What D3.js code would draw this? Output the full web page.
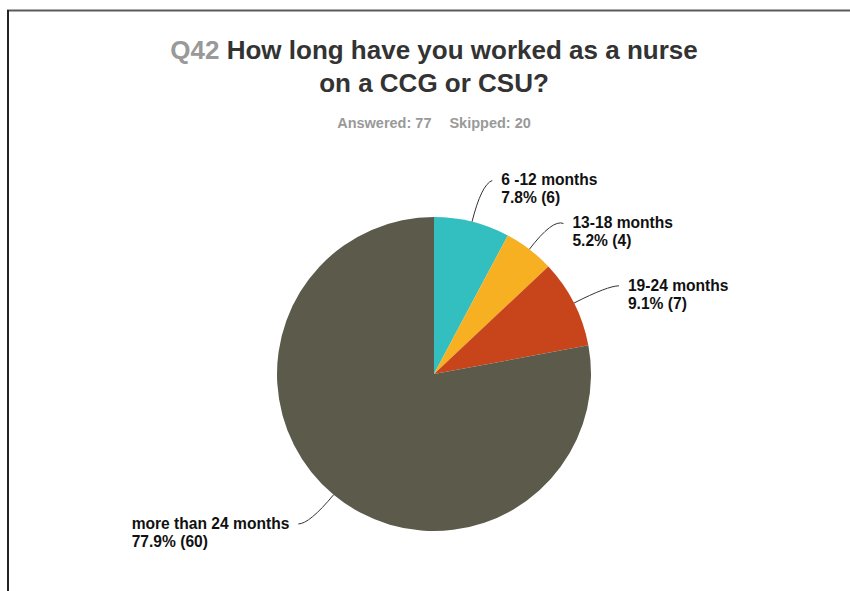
<!DOCTYPE html>
<meta charset="utf-8">
<style>
body {
  margin: 0;
  font-family: "Liberation Sans", Arial, sans-serif;
  background: #fff;
}
.slice-label {
  font-size: 15.6px;
  font-weight: bold;
  fill: #111;
}
.leader {
  fill: none;
  stroke: #333;
  stroke-width: 1px;
}
</style>
<body>
<script src="https://d3js.org/d3.v7.min.js"></script>
<script>

var width = 850,
    height = 591,
    cx = 434,
    cy = 374,
    radius = 157;

// survey answers, in the order they appear clockwise from 12 o'clock
var categories = ["6 -12 months", "13-18 months", "19-24 months", "more than 24 months"];
var counts = [6, 4, 7, 60];
var colors = ["#33bec0", "#f6b021", "#c8441a", "#5c5a4b"];

var questionNo = "Q42";
var titleLines = ["How long have you worked as a nurse", "on a CCG or CSU?"];
var answered = 77,
    skipped = 20;

var svg = d3.select("body").append("svg")
    .attr("width", width)
    .attr("height", height);

// frame (only top and left edges are in view)
svg.append("line")
    .attr("x1", 7).attr("x2", width)
    .attr("y1", 10.5).attr("y2", 10.5)
    .attr("stroke", "#5a5a5a")
    .attr("stroke-width", 2);
svg.append("line")
    .attr("x1", 8).attr("x2", 8)
    .attr("y1", 10).attr("y2", height)
    .attr("stroke", "#222")
    .attr("stroke-width", 2);

// title
var title = svg.append("text")
    .attr("x", cx)
    .attr("y", 59)
    .attr("text-anchor", "middle")
    .style("font-size", "26px")
    .style("font-weight", "bold")
    .style("fill", "#333");
title.append("tspan").style("fill", "#999").text(questionNo + " ");
title.append("tspan").text(titleLines[0]);

svg.append("text")
    .attr("x", cx)
    .attr("y", 92)
    .attr("text-anchor", "middle")
    .style("font-size", "26px")
    .style("font-weight", "bold")
    .style("fill", "#333")
    .text(titleLines[1]);

var sub = svg.append("text")
    .attr("x", cx)
    .attr("y", 128)
    .attr("text-anchor", "middle")
    .style("font-size", "14.5px")
    .style("font-weight", "bold")
    .style("fill", "#999");
sub.append("tspan").text("Answered: " + answered);
sub.append("tspan").attr("dx", 18).text("Skipped: " + skipped);

// pie
var total = d3.sum(counts);
var fmt = d3.format(".1%");

var pie = d3.pie().sort(null).value(function(d) { return d; });
var arcs = pie(counts);

var arc = d3.arc().innerRadius(0).outerRadius(radius);

var g = svg.append("g")
    .attr("transform", "translate(" + cx + "," + cy + ")");

g.selectAll("path.slice")
    .data(arcs)
  .enter().append("path")
    .attr("class", "slice")
    .attr("d", arc)
    .attr("fill", function(d, i) { return colors[i]; });

function polar(r, a) {
  return [r * Math.sin(a), -r * Math.cos(a)];
}

// label anchors, then push apart labels that sit too close on one side
var anchors = arcs.map(function(d) {
  var mid = (d.startAngle + d.endAngle) / 2;
  return {
    mid: mid,
    right: Math.sin(mid) >= 0,
    p0: polar(radius, mid),
    p1: polar(radius + 38, mid)
  };
});
anchors.forEach(function(a) { a.y = a.p1[1]; });

var minGap = 43;
[true, false].forEach(function(side) {
  var list = anchors.filter(function(a) { return a.right === side; })
      .sort(function(a, b) { return a.y - b.y; });
  for (var k = 1; k < list.length; k++) {
    var gap = list[k].y - list[k - 1].y;
    if (gap < minGap) {
      var push = (minGap - gap) / 2;
      list[k - 1].y -= push;
      list[k].y += push;
    }
  }
});

var labels = g.selectAll("g.label")
    .data(arcs)
  .enter().append("g")
    .attr("class", "label");

labels.each(function(d, i) {
  var sel = d3.select(this),
      a = anchors[i],
      p2 = [a.p1[0] + (a.right ? 11 : -11), a.y];

  sel.append("path")
      .attr("class", "leader")
      .attr("d", "M" + a.p0 + "Q" + a.p1 + " " + p2);

  var t = sel.append("text")
      .attr("class", "slice-label")
      .attr("y", a.y + 5);
  t.append("tspan").text(categories[i]);
  t.append("tspan").attr("dy", 18).text(fmt(counts[i] / total) + " (" + counts[i] + ")");

  var w = d3.max(t.selectAll("tspan").nodes(), function(n) { return n.getComputedTextLength(); });
  var x = a.right ? p2[0] + 9 : p2[0] - 9 - w;
  t.selectAll("tspan").attr("x", x);
});

</script>
